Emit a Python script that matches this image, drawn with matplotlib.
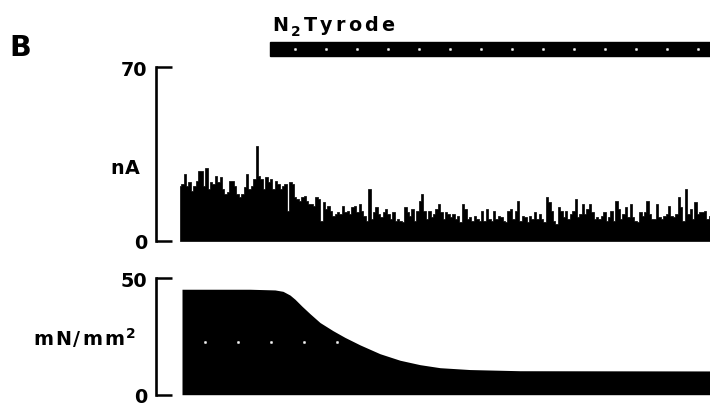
import numpy as np
import matplotlib
matplotlib.use("Agg")
import matplotlib.pyplot as plt
from matplotlib.patches import Rectangle
from matplotlib.transforms import blended_transform_factory

plt.rcParams.update({
    "font.family": "DejaVu Sans",
    "font.weight": "bold",
})

# membrane current (nA), sampled evenly along the record
current = [
    22.3, 22.9, 27.0, 22.3, 23.6, 20.2, 22.3, 24.3, 28.3, 28.3, 22.3, 29.2, 20.9, 23.6, 22.9, 26.3, 23.6,
    25.6, 20.9, 18.9, 19.6, 24.3, 24.3, 22.3, 18.9, 17.6, 18.9, 21.6, 27.0, 20.9, 22.3, 24.9, 38.3, 26.3,
    24.9, 20.9, 25.6, 23.6, 24.9, 20.9, 24.3, 22.9, 20.9, 22.3, 22.9, 12.2, 23.6, 22.9, 17.6, 16.9, 16.2,
    17.6, 18.2, 16.2, 14.9, 14.9, 14.2, 17.6, 16.9, 8.2, 15.6, 12.9, 14.2, 12.2, 10.2, 10.9, 11.5, 10.9,
    14.2, 11.5, 12.2, 10.9, 13.5,
    14.2, 11.5, 14.9, 12.2, 10.2, 8.2, 20.9, 8.8, 11.5, 13.5, 10.9, 9.5, 11.5, 12.9, 10.9, 8.8, 11.5,
    8.2, 8.8, 8.2, 7.5, 13.5, 11.5, 10.2, 12.9, 8.2, 12.2, 16.2, 18.9, 12.2, 8.8, 12.2, 9.5, 10.9, 12.9,
    14.9, 11.5, 8.8, 11.5,
    10.9, 9.5, 10.9, 8.8, 10.2, 7.5, 14.9, 12.9, 8.8, 9.5, 8.2, 10.2, 8.8, 8.2, 12.2, 8.2, 12.9, 8.8,
    8.2, 12.2, 8.8, 10.2, 9.5, 8.2, 7.5, 12.2, 12.9, 8.8, 12.2, 16.2, 8.2, 10.2, 9.5, 7.5, 10.2, 8.8,
    11.5, 8.8,
    10.9, 8.8, 7.5, 17.6, 15.6, 12.2, 8.2, 6.9, 13.5, 12.2, 9.5, 12.2, 8.8, 10.9, 12.2, 16.9, 9.5, 10.9,
    14.9, 10.9, 12.9, 14.9, 11.5, 8.8, 9.5, 8.8, 10.2, 11.5, 8.2, 9.5, 12.2, 8.2, 16.2, 12.9, 8.8, 10.9,
    13.5, 9.5,
    14.9, 9.5, 8.2, 7.5, 11.5, 10.2, 11.5, 16.2, 10.9, 8.8, 8.8, 14.9, 9.5, 8.8, 10.2, 10.9, 14.2, 10.2,
    9.5, 10.9, 17.6, 13.5, 8.2, 20.9, 10.9, 12.9, 8.8, 15.6, 10.9, 11.5, 11.5, 12.2, 8.8, 10.2,
]

# developed force (mN/mm^2)
force_t = [2, 70, 95, 103, 110, 115, 122, 130, 140, 153, 165, 180, 200, 220, 240, 260, 290, 340, 530]
force = [45.3, 45.3, 45.0, 44.4, 42.8, 41.0, 38.0, 34.8, 31.0, 27.5, 24.6, 21.4, 17.6, 14.8, 12.9,
         11.6, 10.8, 10.3, 10.2]

t_end = 530
n2_start = 90          # N2-Tyrode applied from here to end of record
current_max = 70
force_max = 50

W, H = 710, 406
fig = plt.figure(figsize=(W / 100, H / 100), dpi=100)

ax1 = fig.add_axes([180 / W, 164 / H, 530 / W, 174 / H])
ax2 = fig.add_axes([180 / W, 10.3 / H, 530 / W, 116.4 / H])

t_cur = np.linspace(0, t_end, len(current))
ax1.fill_between(t_cur, 0, current, step="mid", color="black", lw=0.5, edgecolor="black")
ax1.set_ylim(0, current_max)

ax2.fill_between(force_t, 0, force, color="black", lw=0)
fdots = np.arange(25, t_end, 33)
ax2.plot(fdots, np.full(len(fdots), 22.7), ls="none", marker="s", ms=1.0, color="white", alpha=0.8)
ax2.set_ylim(0, force_max)

for ax, top in ((ax1, current_max), (ax2, force_max)):
    ax.set_xlim(0, t_end)
    for side in ("top", "right", "bottom"):
        ax.spines[side].set_visible(False)
    ax.spines["left"].set_position(("outward", 17.6))
    ax.spines["left"].set_linewidth(1.9)
    ax.set_xticks([])
    ax.set_yticks([0, top])
    ax.tick_params(axis="y", direction="in", length=11.5, width=1.8, pad=6, labelsize=13.8)
    for lbl in ax.get_yticklabels():
        lbl.set_fontweight("bold")

# solution bar above the current trace
tr = blended_transform_factory(ax1.transData, ax1.transAxes)
ax1.add_patch(Rectangle((n2_start, (242 - 57.3) / 174), t_end - n2_start, 14.6 / 174,
                        transform=tr, color="black", clip_on=False))
dots = np.arange(n2_start + 25, t_end, 31)
ax1.plot(dots, np.full(len(dots), (242 - 49.5) / 174), transform=tr, ls="none", marker="s",
         ms=1.0, color="white", alpha=0.8, clip_on=False)


def spaced_text(x, y, pieces, size, track):
    # draw text piece by piece (x, y in pixels from top-left) with extra letter spacing
    renderer = fig.canvas.get_renderer()
    for s, dy, scale in pieces:
        t = fig.text(x / W, (H - y + dy) / H, s, fontsize=size * scale, fontweight="bold",
                     va="baseline", ha="left")
        x += t.get_window_extent(renderer).width + track


spaced_text(272, 31, [("N", 0, 1), ("2", -5, 0.72)] + [(c, 0, 1) for c in "Tyrode"], 13.8, 3)
spaced_text(110, 174, [("n", 0, 1), ("A", 0, 1)], 13.8, 1.5)
spaced_text(33, 345, [(c, 0, 1) for c in "mN/mm"] + [("2", 7, 0.72)], 13.8, 2)
fig.text(9 / W, (H - 56) / H, "B", fontsize=20.5, fontweight="bold", va="baseline", ha="left")

fig.savefig("out.png", dpi=100)
